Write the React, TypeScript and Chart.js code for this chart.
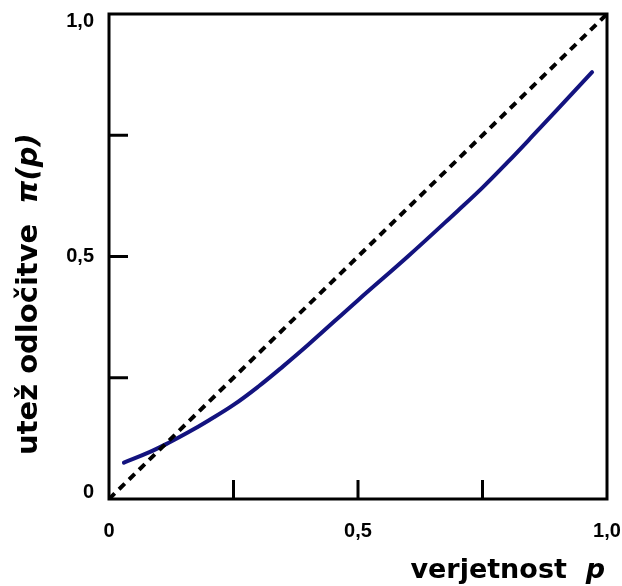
import React, { useEffect, useRef } from "react";
import { Chart, registerables } from "chart.js";

Chart.register(...registerables);

// Data
const pValues = [0.03, 0.08, 0.12, 0.16, 0.2, 0.25, 0.3, 0.35, 0.4, 0.5, 0.6, 0.7, 0.75, 0.8, 0.85, 0.9, 0.97];
const piValues = [0.075, 0.096, 0.116, 0.138, 0.162, 0.194, 0.232, 0.274, 0.318, 0.41, 0.5, 0.594, 0.642, 0.694, 0.748, 0.803, 0.88];
const diagonalP = [0, 1];
const diagonalPi = [0, 1];
const tickValues = [0, 0.25, 0.5, 0.75, 1];
const tickLabels = ["0", "", "0,5", "", "1,0"];
const innerTicks = [0.25, 0.5, 0.75];
const xTitle = "verjetnost";
const xTitleItalic = "p";
const yTitle = "utež odločitve";
const yTitleItalic = "π(p)";

const TICK_FONT = "'Liberation Sans', Arial, sans-serif";
const TITLE_FONT = "'DejaVu Sans', Verdana, sans-serif";

const framePlugin = {
  id: "frame",
  afterDraw(chart: any) {
    const { ctx, chartArea } = chart;
    const xs = chart.scales.x;
    const ys = chart.scales.y;
    ctx.save();
    ctx.strokeStyle = "#000";
    ctx.lineWidth = 3;
    ctx.lineCap = "butt";
    ctx.strokeRect(chartArea.left, chartArea.top, chartArea.right - chartArea.left, chartArea.bottom - chartArea.top);
    const len = 19;
    for (const v of innerTicks) {
      const px = xs.getPixelForValue(v);
      ctx.beginPath();
      ctx.moveTo(px, chartArea.bottom);
      ctx.lineTo(px, chartArea.bottom - len);
      ctx.stroke();
      const py = ys.getPixelForValue(v);
      ctx.beginPath();
      ctx.moveTo(chartArea.left, py);
      ctx.lineTo(chartArea.left + len, py);
      ctx.stroke();
    }
    ctx.fillStyle = "#000";
    // y tick labels (kept inside the frame's vertical range)
    ctx.font = `bold 20px ${TICK_FONT}`;
    ctx.textAlign = "right";
    ctx.textBaseline = "middle";
    tickValues.forEach((v, i) => {
      const lbl = tickLabels[i];
      if (!lbl) return;
      let py = ys.getPixelForValue(v);
      py = Math.min(Math.max(py, chartArea.top + 7), chartArea.bottom - 7);
      ctx.fillText(lbl, chartArea.left - 15, py);
    });
    ctx.textBaseline = "alphabetic";
    ctx.textAlign = "left";
    // x title
    const xSize = 27;
    const xMain = xTitle + "  ";
    ctx.font = `bold ${xSize}px ${TITLE_FONT}`;
    const w1 = ctx.measureText(xMain).width;
    ctx.font = `italic bold ${xSize}px ${TITLE_FONT}`;
    const w2 = ctx.measureText(xTitleItalic).width;
    const xEnd = 605;
    const xStart = xEnd - w1 - w2;
    ctx.font = `bold ${xSize}px ${TITLE_FONT}`;
    ctx.fillText(xMain, xStart, 578);
    ctx.font = `italic bold ${xSize}px ${TITLE_FONT}`;
    ctx.fillText(xTitleItalic, xStart + w1, 578);
    // y title
    const ySize = 29;
    const yMain = yTitle + "  ";
    ctx.translate(37, 0);
    ctx.rotate(-Math.PI / 2);
    ctx.font = `bold ${ySize}px ${TITLE_FONT}`;
    const yw1 = ctx.measureText(yMain).width;
    const yStartPix = 455;
    ctx.fillText(yMain, -yStartPix, 0);
    ctx.font = `italic bold ${ySize}px ${TITLE_FONT}`;
    ctx.fillText(yTitleItalic, -yStartPix + yw1, 0);
    ctx.restore();
  },
};

export default function App() {
  const ref = useRef<HTMLCanvasElement | null>(null);
  useEffect(() => {
    document.body.style.margin = "0";
    const canvas = ref.current;
    if (!canvas) return;
    const labelFor = (v: any) => {
      const i = tickValues.indexOf(Number(v));
      return i >= 0 ? tickLabels[i] : "";
    };
    const chart = new Chart(canvas, {
      type: "scatter",
      data: {
        datasets: [
          {
            label: "diagonal",
            data: diagonalP.map((p, i) => ({ x: p, y: diagonalPi[i] })),
            showLine: true,
            borderColor: "#000",
            borderWidth: 4,
            borderDash: [8, 6],
            pointRadius: 0,
            fill: false,
          },
          {
            label: "π(p)",
            data: pValues.map((p, i) => ({ x: p, y: piValues[i] })),
            showLine: true,
            borderColor: "#13137f",
            borderWidth: 4,
            borderCapStyle: "round",
            tension: 0.4,
            pointRadius: 0,
            fill: false,
          },
        ],
      },
      options: {
        responsive: false,
        animation: false,
        events: [],
        layout: { padding: { left: 0, right: 15, top: 14, bottom: 0 } },
        plugins: { legend: { display: false }, tooltip: { enabled: false } },
        scales: {
          x: {
            type: "linear",
            min: 0,
            max: 1,
            afterBuildTicks: (s: any) => {
              s.ticks = tickValues.map((v) => ({ value: v }));
            },
            afterFit: (s: any) => {
              s.height = 87;
              s.paddingLeft = 0;
              s.paddingRight = 0;
            },
            grid: { display: false, drawTicks: false },
            border: { display: false },
            ticks: {
              padding: 20,
              color: "#000",
              font: { family: TICK_FONT, weight: "bold", size: 20 },
              maxRotation: 0,
              autoSkip: false,
              callback: labelFor,
            },
          },
          y: {
            type: "linear",
            min: 0,
            max: 1,
            afterBuildTicks: (s: any) => {
              s.ticks = tickValues.map((v) => ({ value: v }));
            },
            afterFit: (s: any) => {
              s.width = 109;
              s.paddingTop = 0;
              s.paddingBottom = 0;
            },
            grid: { display: false, drawTicks: false },
            border: { display: false },
            ticks: { display: false },
          },
        },
      },
      plugins: [framePlugin],
    });
    return () => chart.destroy();
  }, []);
  return <canvas ref={ref} width={622} height={586} style={{ display: "block" }} />;
}
